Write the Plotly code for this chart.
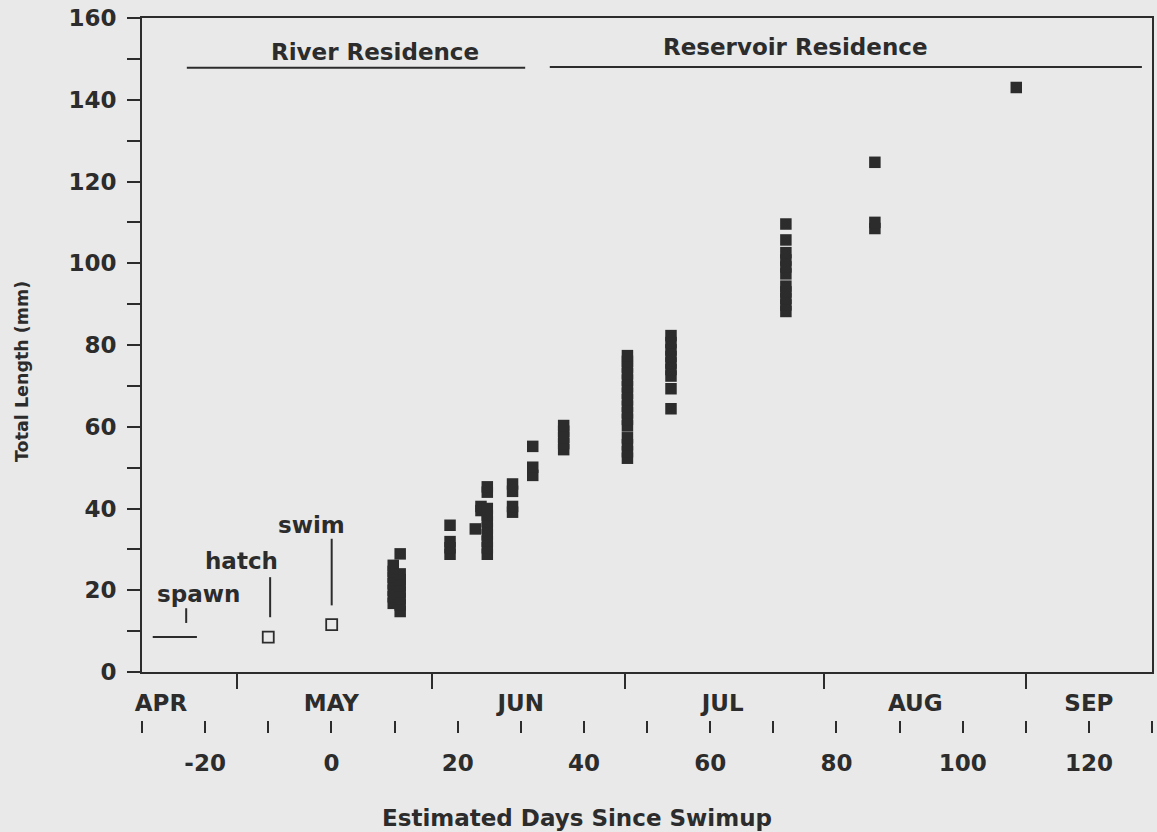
import plotly.graph_objects as go

# ---------------- data ----------------
# filled squares: individual fish, x = estimated days since swim-up, y = total length (mm)
fish_day = ([9.8] * 7 + [10.9] * 8 + [18.8] * 4 + [22.8] + [23.7] * 2 + [24.7] * 10
            + [28.7] * 4 + [31.9] * 3 + [36.8] * 5 + [46.9] * 16 + [53.8] * 9
            + [72.0] * 11 + [86.1] * 3 + [108.5])
fish_len = ([16.8, 18.4, 20.0, 21.6, 23.2, 24.6, 26.1]
            + [14.8, 16.4, 18.0, 19.6, 21.2, 22.6, 24.0, 28.9]
            + [28.8, 30.4, 31.9, 35.9]
            + [35.0]
            + [39.5, 40.5]
            + [28.8, 30.4, 32.0, 33.6, 35.2, 36.8, 38.4, 40.0, 44.0, 45.3]
            + [39.1, 40.5, 44.2, 46.0]
            + [48.1, 50.1, 55.2]
            + [54.4, 55.9, 57.4, 58.9, 60.3]
            + [52.3, 53.9, 55.6, 57.3, 60.2, 61.8, 63.4, 65.0, 66.6, 68.2, 69.8, 71.4,
               73.0, 74.6, 76.0, 77.4]
            + [64.4, 69.3, 72.4, 74.0, 75.6, 77.2, 78.8, 80.6, 82.3]
            + [88.2, 89.8, 91.4, 93.0, 94.4, 97.4, 99.1, 100.8, 102.6, 105.7, 109.6]
            + [108.5, 110.0, 124.7]
            + [143.0])

# open squares: hatch and swim-up stages
stage_day = [-10.0, 0.05]
stage_len = [8.55, 11.6]

# spawning period (horizontal bar)
spawn_day = [-28.3, -21.3]
spawn_len = [8.55, 8.55]

# leader lines for stage labels (day, bottom, top)
leader_day = [-23.0, -9.7, 0.05]
leader_lo = [12.0, 13.4, 16.3]
leader_hi = [15.6, 23.2, 32.6]
stage_labels = ["spawn", "hatch", "swim"]
stage_label_day = [-21.0, -14.3, -3.2]
stage_label_len = [19.0, 27.2, 35.9]

# residence periods
residence_names = ["River Residence", "Reservoir Residence"]
residence_start = [-22.9, 34.6]
residence_end = [30.7, 128.4]
residence_level = [147.8, 148.0]
residence_label_day = [6.9, 73.5]
residence_label_len = [151.6, 153.0]

# axes
month_names = ["APR", "MAY", "JUN", "JUL", "AUG", "SEP"]
month_label_pos = [-27.0, 0.0, 30.0, 62.0, 92.5, 120.0]
month_bounds = [-15.0, 16.0, 46.5, 78.0, 110.0]
day_ticks = list(range(-30, 131, 10))
day_ticktext = [str(d) if d % 20 == 0 and -20 <= d <= 120 else "" for d in day_ticks]

# ---------------- figure ----------------
INK = "#2c2c2c"
BG = "#e9e9e9"
FONT = "DejaVu Sans"
FS = 23
LW = 2

fig = go.Figure()

# spawning bar (drawn on the secondary day axis, identical range)
fig.add_trace(go.Scatter(x=spawn_day, y=spawn_len, mode="lines",
                         line=dict(color=INK, width=LW), xaxis="x2", yaxis="y",
                         hoverinfo="skip", showlegend=False))

# leader lines
lx, ly = [], []
for d, lo, hi in zip(leader_day, leader_lo, leader_hi):
    lx += [d, d, None]
    ly += [lo, hi, None]
fig.add_trace(go.Scatter(x=lx, y=ly, mode="lines", line=dict(color=INK, width=LW),
                         hoverinfo="skip", showlegend=False))

# residence lines
rx, ry = [], []
for s, e, lv in zip(residence_start, residence_end, residence_level):
    rx += [s, e, None]
    ry += [lv, lv, None]
fig.add_trace(go.Scatter(x=rx, y=ry, mode="lines", line=dict(color=INK, width=LW),
                         hoverinfo="skip", showlegend=False))

# open squares
fig.add_trace(go.Scatter(x=stage_day, y=stage_len, mode="markers",
                         marker=dict(symbol="square-open", size=11, color=INK,
                                     line=dict(width=1.8, color=INK)),
                         showlegend=False))

# fish
fig.add_trace(go.Scatter(x=fish_day, y=fish_len, mode="markers",
                         marker=dict(symbol="square", size=11.5, color=INK,
                                     line=dict(width=0)),
                         showlegend=False))

bold = dict(family=FONT, size=FS, color=INK, weight="bold")

annotations = []
for t, d, v in zip(stage_labels, stage_label_day, stage_label_len):
    annotations.append(dict(x=d, y=v, xref="x", yref="y", text=t, showarrow=False,
                            xanchor="center", yanchor="middle", font=bold))
for t, d, v in zip(residence_names, residence_label_day, residence_label_len):
    annotations.append(dict(x=d, y=v, xref="x", yref="y", text=t, showarrow=False,
                            xanchor="center", yanchor="middle", font=bold))
# y-axis title
annotations.append(dict(x=-0.1188, y=73.4, xref="paper", yref="y",
                        text="Total Length (mm)", textangle=-90, showarrow=False,
                        xanchor="center", yanchor="middle",
                        font=dict(family=FONT, size=17.5, color=INK, weight="bold")))
# x-axis title
annotations.append(dict(x=0.4307, y=-0.1396, xref="paper", yref="paper",
                        text="Estimated Days Since Swimup", showarrow=False,
                        xanchor="center", yanchor="middle", font=bold))

fig.update_layout(
    width=1157, height=832,
    margin=dict(l=142, r=5, t=18, b=112, autoexpand=False),
    paper_bgcolor=BG, plot_bgcolor=BG,
    font=bold,
    showlegend=False,
    annotations=annotations,
    xaxis=dict(
        domain=[0, 1], anchor="y", range=[-30, 130],
        showgrid=False, zeroline=False,
        showline=True, linecolor=INK, linewidth=LW, mirror=True,
        tickmode="array", tickvals=month_label_pos, ticktext=month_names,
        ticks="outside", ticklen=9, tickcolor="rgba(0,0,0,0)",
        tickfont=bold,
        minor=dict(tickmode="array", tickvals=month_bounds, ticks="outside",
                   ticklen=15, tickwidth=LW, tickcolor=INK, showgrid=False),
    ),
    xaxis2=dict(
        overlaying="x", anchor="free", position=0, side="bottom",
        range=[-30, 130], showgrid=False, zeroline=False, showline=False,
        tickmode="array", tickvals=day_ticks, ticktext=day_ticktext,
        ticks="outside", ticklen=12, tickwidth=LW, tickcolor=INK,
        ticklabelstandoff=10,
        tickfont=bold,
    ),
    yaxis=dict(
        domain=[48 / 702, 1], range=[0, 160],
        showgrid=False, zeroline=False,
        showline=True, linecolor=INK, linewidth=LW, mirror=True,
        tickmode="linear", tick0=0, dtick=20,
        ticks="outside", ticklen=13, tickwidth=LW, tickcolor=INK,
        ticklabelstandoff=6,
        minor=dict(dtick=10, ticks="outside", ticklen=13, tickwidth=LW, tickcolor=INK,
                   showgrid=False),
        tickfont=bold,
    ),
)

fig.write_html("out.html")
